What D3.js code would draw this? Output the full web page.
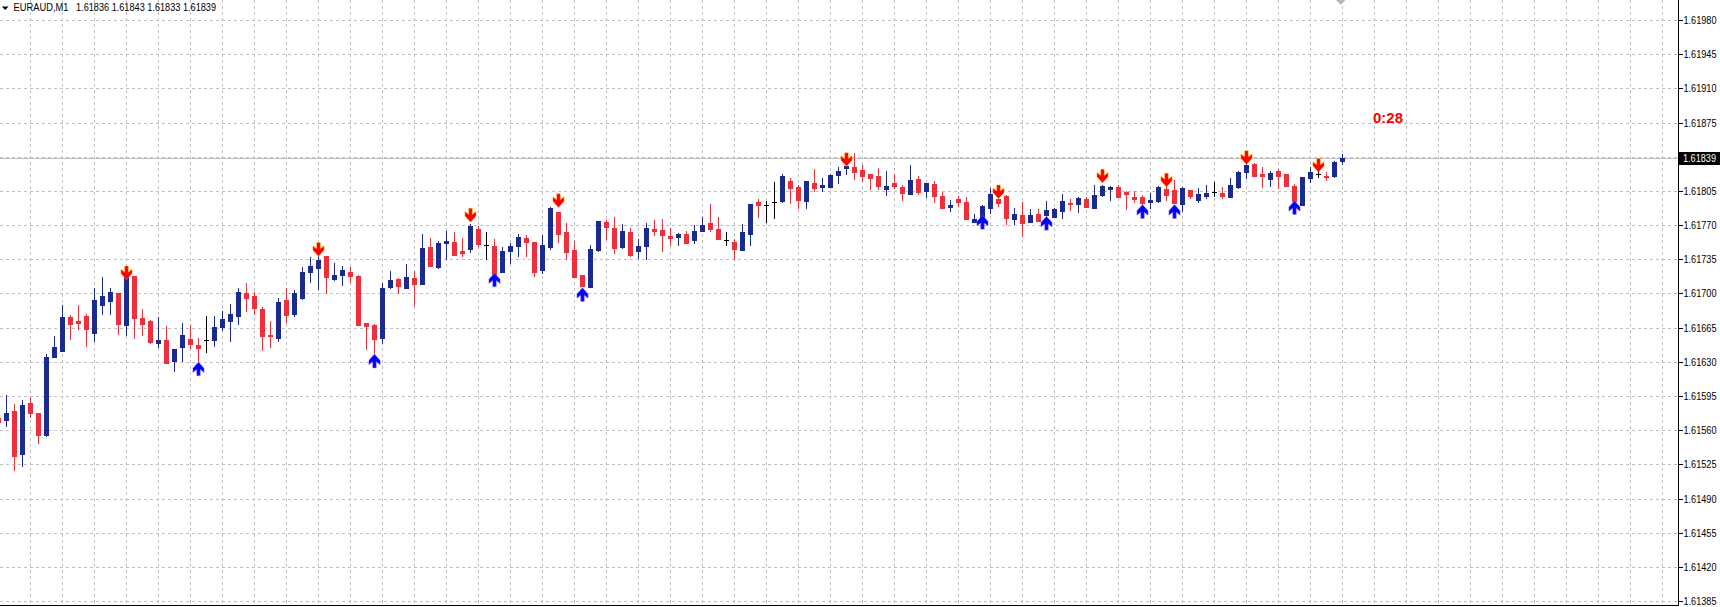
<!DOCTYPE html>
<html><head><meta charset="utf-8">
<script src="https://cdn.jsdelivr.net/npm/d3@7"></script>
<style>
html,body{margin:0;padding:0;background:#fff;overflow:hidden}
svg{display:block}
</style></head><body>
<svg id="c" width="1720" height="607"></svg>
<script>
// ---- data (EURAUD M1), bar index -1 is the partially visible bar at the left edge ----
const symbol = "EURAUD,M1";
const lastQuote = ["1.61836", "1.61843", "1.61833", "1.61839"];
const timer = "0:28";
const bars = d3.range(-1, 168);
const open = [
1.61573,1.61571,1.61580,1.61536,1.61588,1.61578,1.61555,1.61635,1.61641,1.61676,
1.61672,1.61677,1.61660,1.61688,1.61692,1.61700,1.61668,1.61718,1.61675,1.61672,
1.61649,1.61652,1.61631,1.61645,1.61653,1.61647,1.61652,1.61652,1.61666,1.61672,
1.61677,1.61701,1.61697,1.61684,1.61658,1.61654,1.61693,1.61679,1.61695,1.61722,
1.61726,1.61738,1.61715,1.61719,1.61722,1.61718,1.61670,1.61668,1.61654,1.61707,
1.61715,1.61706,1.61716,1.61710,1.61748,1.61727,1.61752,1.61753,1.61744,1.61746,
1.61766,1.61750,1.61749,1.61722,1.61744,1.61749,1.61757,1.61753,1.61724,1.61748,
1.61783,1.61763,1.61745,1.61719,1.61707,1.61745,1.61773,1.61767,1.61748,1.61763,
1.61743,1.61749,1.61766,1.61765,1.61759,1.61758,1.61761,1.61755,1.61764,1.61772,
1.61766,1.61755,1.61753,1.61745,1.61761,1.61794,1.61791,1.61794,1.61795,1.61815,
1.61809,1.61795,1.61813,1.61809,1.61809,1.61821,1.61828,1.61829,1.61826,1.61822,
1.61820,1.61807,1.61813,1.61809,1.61802,1.61817,1.61805,1.61812,1.61800,1.61789,
1.61797,1.61794,1.61773,1.61775,1.61788,1.61797,1.61800,1.61776,1.61780,1.61773,
1.61781,1.61780,1.61778,1.61784,1.61793,1.61792,1.61797,1.61788,1.61801,1.61807,
1.61809,1.61804,1.61799,1.61799,1.61794,1.61795,1.61807,1.61806,1.61792,1.61806,
1.61796,1.61800,1.61804,1.61803,1.61799,1.61809,1.61824,1.61833,1.61822,1.61817,
1.61825,1.61822,1.61810,1.61791,1.61818,1.61822,1.61820,1.61820,1.61836];
const high = [
1.61575,1.61596,1.61587,1.61591,1.61594,1.61578,1.61638,1.61657,1.61688,1.61678,
1.61688,1.61679,1.61706,1.61717,1.61706,1.61700,1.61719,1.61718,1.61684,1.61673,
1.61676,1.61667,1.61643,1.61670,1.61668,1.61654,1.61677,1.61677,1.61682,1.61689,
1.61706,1.61711,1.61702,1.61686,1.61672,1.61695,1.61706,1.61704,1.61727,1.61737,
1.61739,1.61738,1.61731,1.61728,1.61727,1.61719,1.61670,1.61669,1.61711,1.61723,
1.61716,1.61730,1.61723,1.61761,1.61757,1.61754,1.61764,1.61763,1.61757,1.61771,
1.61769,1.61763,1.61756,1.61748,1.61752,1.61761,1.61760,1.61753,1.61760,1.61789,
1.61783,1.61772,1.61754,1.61719,1.61750,1.61774,1.61775,1.61778,1.61771,1.61767,
1.61756,1.61772,1.61775,1.61776,1.61767,1.61762,1.61764,1.61770,1.61778,1.61792,
1.61778,1.61763,1.61756,1.61771,1.61792,1.61797,1.61795,1.61814,1.61822,1.61818,
1.61811,1.61815,1.61827,1.61818,1.61822,1.61829,1.61837,1.61844,1.61832,1.61822,
1.61828,1.61825,1.61822,1.61811,1.61832,1.61820,1.61813,1.61815,1.61804,1.61796,
1.61800,1.61799,1.61781,1.61791,1.61808,1.61799,1.61801,1.61787,1.61794,1.61786,
1.61786,1.61795,1.61787,1.61802,1.61797,1.61799,1.61799,1.61811,1.61811,1.61810,
1.61811,1.61805,1.61805,1.61801,1.61803,1.61810,1.61811,1.61816,1.61809,1.61806,
1.61808,1.61811,1.61814,1.61809,1.61818,1.61825,1.61833,1.61834,1.61829,1.61825,
1.61827,1.61822,1.61812,1.61819,1.61829,1.61825,1.61824,1.61836,1.61843];
const low = [
1.61566,1.61564,1.61519,1.61523,1.61574,1.61547,1.61554,1.61635,1.61641,1.61653,
1.61664,1.61646,1.61651,1.61679,1.61679,1.61659,1.61658,1.61654,1.61658,1.61649,
1.61645,1.61629,1.61621,1.61631,1.61644,1.61627,1.61640,1.61646,1.61663,1.61651,
1.61669,1.61682,1.61679,1.61642,1.61645,1.61651,1.61671,1.61677,1.61694,1.61712,
1.61705,1.61701,1.61714,1.61709,1.61712,1.61668,1.61643,1.61637,1.61649,1.61706,
1.61700,1.61706,1.61688,1.61710,1.61728,1.61726,1.61735,1.61739,1.61738,1.61742,
1.61749,1.61735,1.61720,1.61722,1.61731,1.61738,1.61738,1.61718,1.61721,1.61746,
1.61753,1.61735,1.61717,1.61708,1.61707,1.61743,1.61756,1.61741,1.61747,1.61738,
1.61736,1.61735,1.61760,1.61743,1.61750,1.61750,1.61752,1.61752,1.61764,1.61764,
1.61756,1.61750,1.61735,1.61745,1.61750,1.61778,1.61773,1.61777,1.61794,1.61793,
1.61788,1.61788,1.61805,1.61805,1.61809,1.61813,1.61822,1.61817,1.61815,1.61807,
1.61807,1.61801,1.61808,1.61796,1.61802,1.61802,1.61799,1.61794,1.61788,1.61784,
1.61790,1.61776,1.61773,1.61775,1.61782,1.61790,1.61771,1.61771,1.61759,1.61773,
1.61774,1.61778,1.61778,1.61777,1.61785,1.61783,1.61789,1.61788,1.61800,1.61796,
1.61799,1.61786,1.61794,1.61792,1.61788,1.61794,1.61796,1.61793,1.61784,1.61798,
1.61794,1.61798,1.61800,1.61798,1.61799,1.61808,1.61818,1.61820,1.61809,1.61810,
1.61808,1.61810,1.61795,1.61791,1.61814,1.61819,1.61816,1.61819,1.61833];
const close = [
1.61568,1.61578,1.61534,1.61586,1.61578,1.61555,1.61635,1.61645,1.61676,1.61669,
1.61670,1.61664,1.61693,1.61697,1.61702,1.61669,1.61718,1.61675,1.61669,1.61650,
1.61652,1.61629,1.61643,1.61658,1.61648,1.61644,1.61652,1.61666,1.61674,1.61679,
1.61702,1.61695,1.61685,1.61656,1.61656,1.61691,1.61678,1.61701,1.61722,1.61728,
1.61734,1.61717,1.61719,1.61724,1.61718,1.61668,1.61667,1.61653,1.61706,1.61714,
1.61708,1.61717,1.61710,1.61747,1.61728,1.61752,1.61754,1.61739,1.61741,1.61769,
1.61751,1.61750,1.61720,1.61744,1.61749,1.61758,1.61753,1.61722,1.61750,1.61787,
1.61761,1.61742,1.61717,1.61708,1.61746,1.61774,1.61768,1.61747,1.61764,1.61739,
1.61749,1.61767,1.61764,1.61760,1.61757,1.61761,1.61752,1.61764,1.61770,1.61766,
1.61756,1.61755,1.61746,1.61763,1.61792,1.61791,1.61791,1.61794,1.61820,1.61808,
1.61796,1.61815,1.61808,1.61811,1.61821,1.61825,1.61830,1.61824,1.61820,1.61818,
1.61810,1.61810,1.61810,1.61803,1.61816,1.61804,1.61813,1.61800,1.61788,1.61791,
1.61794,1.61776,1.61776,1.61790,1.61802,1.61793,1.61777,1.61781,1.61772,1.61780,
1.61774,1.61785,1.61786,1.61795,1.61792,1.61798,1.61789,1.61801,1.61810,1.61809,
1.61799,1.61802,1.61797,1.61793,1.61796,1.61809,1.61801,1.61793,1.61808,1.61800,
1.61802,1.61803,1.61804,1.61800,1.61811,1.61824,1.61832,1.61820,1.61820,1.61823,
1.61820,1.61810,1.61795,1.61819,1.61824,1.61822,1.61819,1.61835,1.61839];
// signal arrows (bar index, price at arrow centre)
const downArrowBar   = [15, 39, 58, 69, 105, 124, 137, 145, 155, 164];
const downArrowPrice = [1.61721,1.61745,1.61780,1.61795,1.61837,1.61804,1.61820,1.61816,1.61839,1.61831];
const upArrowBar     = [24, 46, 61, 72, 122, 130, 142, 146, 161];
const upArrowPrice   = [1.61623,1.61631,1.61714,1.61699,1.61773,1.61772,1.61784,1.61784,1.61788];
// price axis
const gridPrices = [1.61980,1.61945,1.61910,1.61875,1.61840,1.61805,1.61770,1.61735,1.61700,
                    1.61665,1.61630,1.61595,1.61560,1.61525,1.61490,1.61455,1.61420,1.61385];
const tickLabels = [1.61980,1.61945,1.61910,1.61875,1.61805,1.61770,1.61735,1.61700,
                    1.61665,1.61630,1.61595,1.61560,1.61525,1.61490,1.61455,1.61420,1.61385];
const bidPrice = 1.61839;

// ---- layout ----
const plotR = 1678, plotB = 605;
const BLUE = "#1b2a8d", RED = "#ef2f3c";
const svg = d3.select("#c");
const x = d3.scaleLinear().domain([0, 167]).range([6.5, 1342.5]);   // wick centre
const y = d3.scaleLinear().domain([1.61385, 1.61980]).range([601.3, 19.9]);
const py = p => Math.round(y(p));

svg.append("defs").append("clipPath").attr("id", "plot")
  .append("rect").attr("x", 0).attr("y", 0).attr("width", plotR).attr("height", plotB);

const plot = svg.append("g").attr("clip-path", "url(#plot)");

// grid
const gridG = plot.append("g").attr("stroke", "#c0c0c0").attr("stroke-dasharray", "3,3")
  .attr("shape-rendering", "crispEdges");
const vBars = d3.range(3, 168 + 40, 4).filter(k => x(k) < plotR);
gridG.selectAll("line.v").data(vBars).join("line").attr("class", "v")
  .attr("x1", k => Math.floor(x(k)) + 0.5).attr("x2", k => Math.floor(x(k)) + 0.5)
  .attr("y1", 0).attr("y2", plotB);
gridG.selectAll("line.h").data(gridPrices).join("line").attr("class", "h")
  .attr("x1", 0).attr("x2", plotR)
  .attr("y1", d => py(d) + 0.5).attr("y2", d => py(d) + 0.5);

// bid line
plot.append("line").attr("x1", 0).attr("x2", plotR)
  .attr("y1", py(bidPrice) + 0.5).attr("y2", py(bidPrice) + 0.5)
  .attr("stroke", "#c0c0c0").attr("shape-rendering", "crispEdges");

// candles
const candles = plot.append("g").attr("shape-rendering", "crispEdges");
const col = i => close[i] > open[i] ? BLUE : (close[i] < open[i] ? RED : "#000");
const idx = d3.range(bars.length);
candles.selectAll("rect.w").data(idx).join("rect").attr("class", "w")
  .attr("x", i => Math.floor(x(bars[i])))
  .attr("width", 1)
  .attr("y", i => py(high[i]))
  .attr("height", i => py(low[i]) - py(high[i]) + 1)
  .attr("fill", col);
candles.selectAll("rect.b").data(idx).join("rect").attr("class", "b")
  .attr("x", i => Math.floor(x(bars[i])) - 2)
  .attr("width", 5)
  .attr("y", i => py(Math.max(open[i], close[i])))
  .attr("height", i => py(Math.min(open[i], close[i])) - py(Math.max(open[i], close[i])) + 1)
  .attr("fill", col);

// arrows
const downPath = "M-1.8,-7H1.8V-0.8L5.6,-3.8V0.6L0,6.8L-5.6,0.6V-3.8L-1.8,-0.8Z";
const upPath   = "M-1.8,7H1.8V0.8L5.6,3.8V-0.6L0,-6.8L-5.6,-0.6V3.8L-1.8,0.8Z";
plot.append("g").selectAll("path").data(d3.range(downArrowBar.length)).join("path")
  .attr("d", downPath)
  .attr("transform", i => `translate(${x(downArrowBar[i])},${y(downArrowPrice[i])})`)
  .attr("fill", "#ff0000").attr("stroke", "#ffc000").attr("stroke-width", 0.45);
plot.append("g").selectAll("path").data(d3.range(upArrowBar.length)).join("path")
  .attr("d", upPath)
  .attr("transform", i => `translate(${x(upArrowBar[i])},${y(upArrowPrice[i])})`)
  .attr("fill", "#0000ff").attr("stroke", "#a37cff").attr("stroke-width", 0.45);

// shift marker
svg.append("path").attr("d", "M1336,0H1345.5L1340.75,5Z").attr("fill", "#b8b8b8");

// frame
svg.append("g").attr("stroke", "#000").attr("shape-rendering", "crispEdges")
  .call(g => g.append("line").attr("x1", plotR + 0.5).attr("x2", plotR + 0.5).attr("y1", 0).attr("y2", plotB + 1))
  .call(g => g.append("line").attr("x1", 0).attr("x2", plotR + 1).attr("y1", plotB + 0.5).attr("y2", plotB + 0.5));

// price axis
const axis = d3.axisRight(y).tickValues(tickLabels).tickFormat(d3.format(".5f"))
  .tickSize(4).tickPadding(2).tickSizeOuter(0);
const ag = svg.append("g").attr("transform", `translate(${plotR + 0.5},0)`).call(axis);
ag.select(".domain").remove();
ag.selectAll(".tick").attr("transform", d => `translate(0,${py(d) + 0.5})`);
ag.selectAll(".tick line").attr("stroke", "#000").attr("shape-rendering", "crispEdges");
ag.selectAll(".tick text").attr("fill", "#000")
  .attr("font-family", "'Liberation Sans', Arial, sans-serif").attr("font-size", 10)
  .attr("x", 5).attr("textLength", 33).attr("lengthAdjust", "spacingAndGlyphs");

// bid label
const by = py(bidPrice);
svg.append("rect").attr("x", plotR + 1).attr("y", by - 6).attr("width", 1720 - plotR - 1).attr("height", 13).attr("fill", "#000");
svg.append("text").attr("x", plotR + 5).attr("y", by + 4).text(d3.format(".5f")(bidPrice))
  .attr("fill", "#fff").attr("font-family", "'Liberation Sans', Arial, sans-serif").attr("font-size", 10)
  .attr("textLength", 33).attr("lengthAdjust", "spacingAndGlyphs");

// header
svg.append("path").attr("d", "M2,6.5H8.5L5.25,10Z").attr("fill", "#000");
svg.append("text").attr("x", 13.5).attr("y", 11).text(symbol)
  .attr("font-family", "'Liberation Sans', Arial, sans-serif").attr("font-size", 11).attr("fill", "#000")
  .attr("textLength", 55).attr("lengthAdjust", "spacingAndGlyphs");
svg.append("text").attr("x", 76).attr("y", 11).text(lastQuote.join(" "))
  .attr("font-family", "'Liberation Sans', Arial, sans-serif").attr("font-size", 11).attr("fill", "#000")
  .attr("textLength", 140).attr("lengthAdjust", "spacingAndGlyphs");

// countdown
svg.append("text").attr("x", 1373).attr("y", 123).text(timer)
  .attr("font-family", "'Liberation Sans', Arial, sans-serif").attr("font-size", 15)
  .attr("font-weight", "bold").attr("fill", "#ff0000");
</script>
</body></html>
